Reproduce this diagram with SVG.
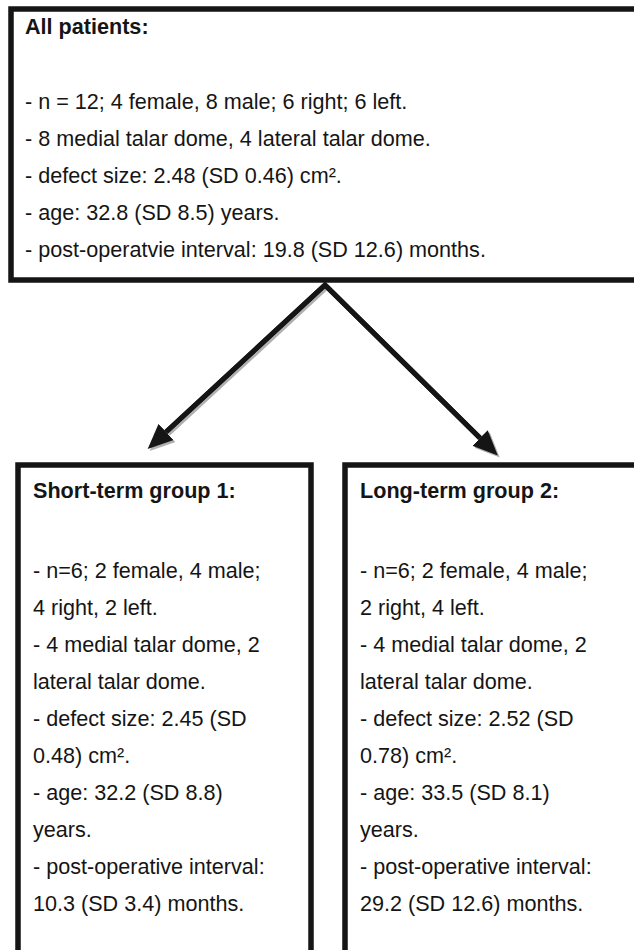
<svg xmlns="http://www.w3.org/2000/svg" width="634" height="950" viewBox="0 0 634 950">
<defs>
<style>
.box{fill:#fff;stroke:#151515;stroke-width:5.5}
.t{font-family:"Liberation Sans",Arial,sans-serif;font-size:21.6px;fill:#151515}
.b{font-weight:bold}
.arr{fill:none;stroke:#151515;stroke-width:5;stroke-linejoin:miter;stroke-miterlimit:10}
.sh{fill:none;stroke:#b0b0b0;stroke-width:5;stroke-linejoin:miter;stroke-miterlimit:10}
</style>
<marker id="ah" markerUnits="userSpaceOnUse" markerWidth="26" markerHeight="22" refX="0" refY="11" orient="auto" viewBox="0 0 26 22">
<path d="M0,0 L25,11 L0,22 Z" fill="#151515"/>
</marker>
<marker id="ahs" markerUnits="userSpaceOnUse" markerWidth="26" markerHeight="22" refX="0" refY="11" orient="auto" viewBox="0 0 26 22">
<path d="M0,0 L25,11 L0,22 Z" fill="#b0b0b0"/>
</marker>
</defs>
<rect width="634" height="950" fill="#fff"/>
<g id="connectors">
<g transform="translate(2,2)">
<path class="sh" d="M325,285 L166,432" marker-end="url(#ahs)"/>
<path class="sh" d="M325,285 L480,438" marker-end="url(#ahs)"/>
</g>
<path class="arr" d="M166,432 L325,285 L480,438"/>
<path class="arr" d="M325,285 L166,432" marker-end="url(#ah)"/>
<path class="arr" d="M325,285 L480,438" marker-end="url(#ah)"/>
</g>
<g id="all-patients">
<rect class="box" x="11" y="9" width="640" height="271"/>
<text class="t b" x="25" y="34">All patients:</text>
<text class="t" x="25" y="109">- n = 12; 4 female, 8 male; 6 right; 6 left.</text>
<text class="t" x="25" y="146">- 8 medial talar dome, 4 lateral talar dome.</text>
<text class="t" x="25" y="183">- defect size: 2.48 (SD 0.46) cm².</text>
<text class="t" x="25" y="220">- age: 32.8 (SD 8.5) years.</text>
<text class="t" x="25" y="257">- post-operatvie interval: 19.8 (SD 12.6) months.</text>
</g>
<g id="short-term">
<rect class="box" x="18" y="465" width="293" height="500"/>
<text class="t b" x="33" y="498">Short-term group 1:</text>
<text class="t" x="33" y="578">- n=6; 2 female, 4 male;</text>
<text class="t" x="33" y="615">4 right, 2 left.</text>
<text class="t" x="33" y="652">- 4 medial talar dome, 2</text>
<text class="t" x="33" y="689">lateral talar dome.</text>
<text class="t" x="33" y="726">- defect size: 2.45 (SD</text>
<text class="t" x="33" y="763">0.48) cm².</text>
<text class="t" x="33" y="800">- age: 32.2 (SD 8.8)</text>
<text class="t" x="33" y="837">years.</text>
<text class="t" x="33" y="874">- post-operative interval:</text>
<text class="t" x="33" y="911">10.3 (SD 3.4) months.</text>
</g>
<g id="long-term">
<rect class="box" x="345" y="465" width="300" height="500"/>
<text class="t b" x="360" y="498">Long-term group 2:</text>
<text class="t" x="360" y="578">- n=6; 2 female, 4 male;</text>
<text class="t" x="360" y="615">2 right, 4 left.</text>
<text class="t" x="360" y="652">- 4 medial talar dome, 2</text>
<text class="t" x="360" y="689">lateral talar dome.</text>
<text class="t" x="360" y="726">- defect size: 2.52 (SD</text>
<text class="t" x="360" y="763">0.78) cm².</text>
<text class="t" x="360" y="800">- age: 33.5 (SD 8.1)</text>
<text class="t" x="360" y="837">years.</text>
<text class="t" x="360" y="874">- post-operative interval:</text>
<text class="t" x="360" y="911">29.2 (SD 12.6) months.</text>
</g>
</svg>
